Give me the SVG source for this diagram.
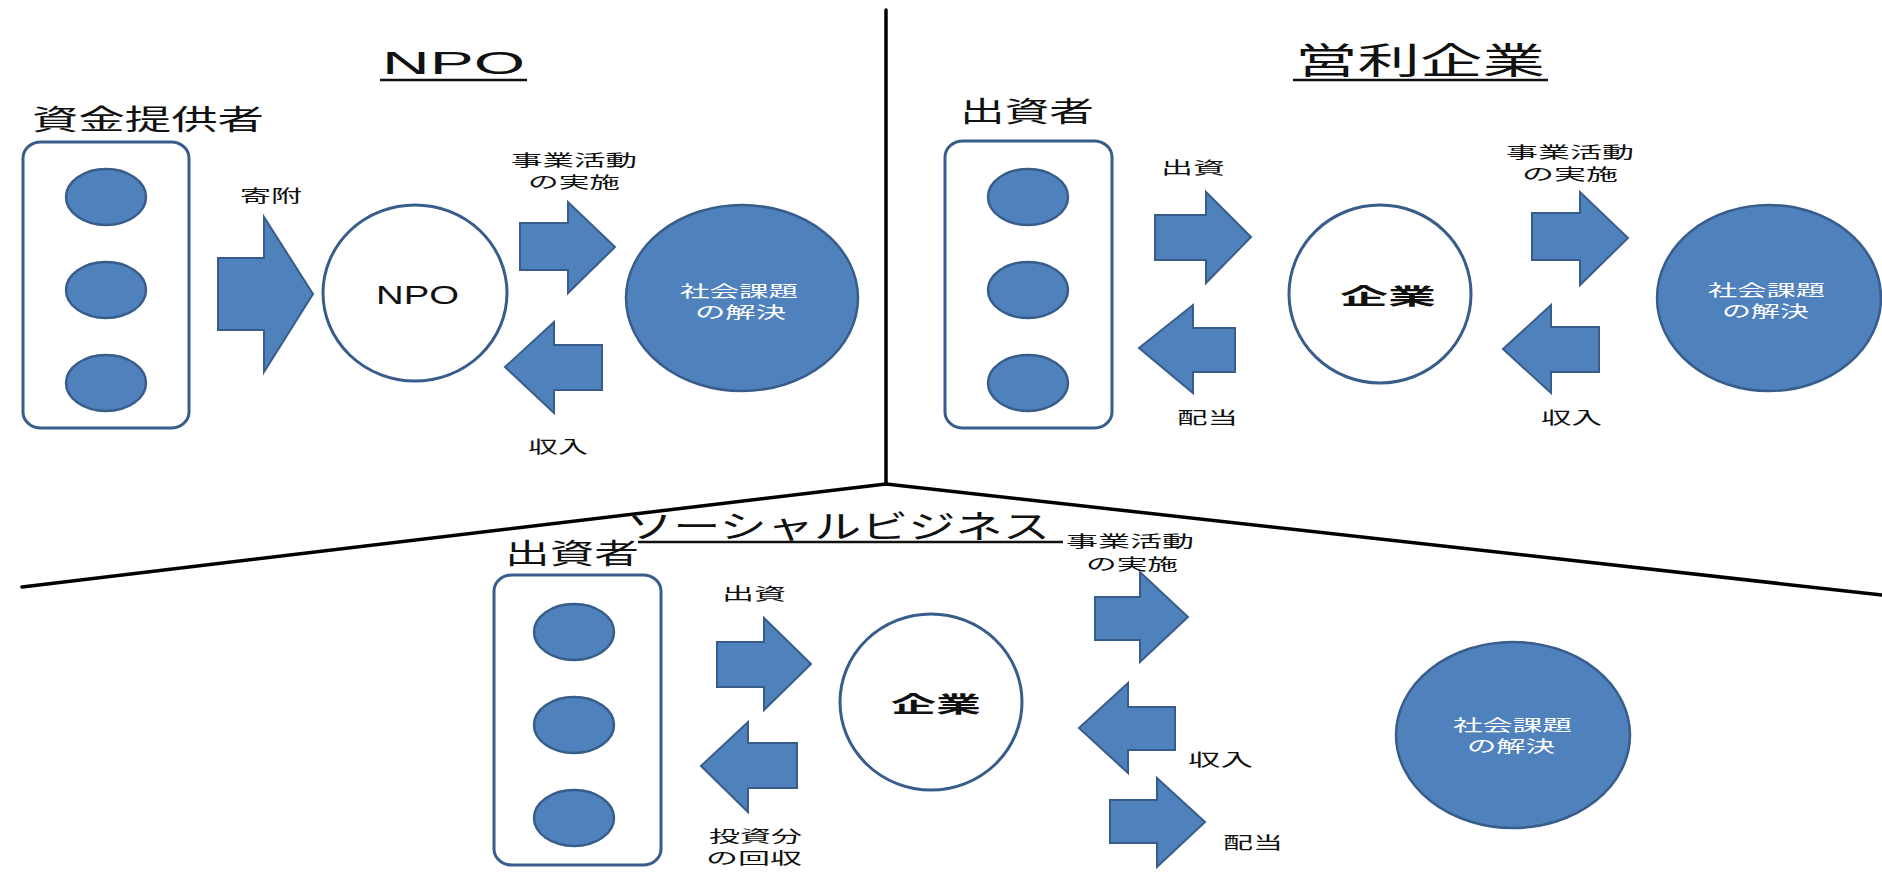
<svg xmlns="http://www.w3.org/2000/svg" width="1882" height="878" viewBox="0 0 1882 878">
<style>
.bg{fill:#ffffff}
.sep{stroke:#000;stroke-width:3.5;fill:none;stroke-linecap:round}
.box{fill:#fff;stroke:#385d8a;stroke-width:3}
.dot{fill:#4f81bd;stroke:#385d8a;stroke-width:2.5}
.org{fill:#fff;stroke:#385d8a;stroke-width:3}
.goal{fill:#4f81bd;stroke:#385d8a;stroke-width:2.5}
.arr{fill:#4f81bd;stroke:#385d8a;stroke-width:2;stroke-linejoin:miter}
.jp{font-family:"Noto Sans CJK JP","Noto Sans",sans-serif;fill:#111}
.lat{font-family:"Liberation Sans",Arial,sans-serif;fill:#111}
.ttl{font-size:36px}
.hd{font-size:28px}
.lb{font-size:17px}
.l2{font-size:16px}
.wt{font-size:16px;fill:#fff}
.ul{stroke:#111;stroke-width:2.5}
</style>
<rect class="bg" x="0" y="0" width="1882" height="878"/>
<g id="separators">
<line class="sep" x1="886" y1="10" x2="886" y2="484"/>
<line class="sep" x1="886" y1="484" x2="22" y2="587"/>
<line class="sep" x1="886" y1="484" x2="1882" y2="595"/>
</g>
<g id="titles">
<text class="lat" x="382" y="74" font-size="32" textLength="143" lengthAdjust="spacingAndGlyphs">NPO</text>
<line class="ul" x1="380" y1="80" x2="527" y2="80"/>
<text class="jp ttl" x="1295" y="74" textLength="250" lengthAdjust="spacingAndGlyphs">営利企業</text>
<line class="ul" x1="1293" y1="80" x2="1548" y2="80"/>
<text class="jp" x="626" y="538" font-size="32" textLength="424" lengthAdjust="spacingAndGlyphs">ソーシャルビジネス</text>
<line class="ul" x1="638" y1="542" x2="1063" y2="542"/>
</g>
<g id="npo-funders">
<text class="jp hd" x="32" y="130" textLength="232" lengthAdjust="spacingAndGlyphs">資金提供者</text>
<rect class="box" x="23" y="142" width="166" height="286" rx="18" ry="16"/>
<ellipse class="dot" cx="106" cy="197" rx="40" ry="28"/>
<ellipse class="dot" cx="106" cy="290" rx="40" ry="28"/>
<ellipse class="dot" cx="106" cy="383" rx="40" ry="28"/>
</g>
<g id="npo-org">
<ellipse class="org" cx="415" cy="293" rx="92" ry="88"/>
<text class="lat" x="376" y="304" font-size="25" textLength="83" lengthAdjust="spacingAndGlyphs">NPO</text>
</g>
<g id="npo-goal">
<ellipse class="goal" cx="742" cy="298" rx="116" ry="93"/>
<text class="jp wt" x="680" y="297" textLength="118" lengthAdjust="spacingAndGlyphs">社会課題</text>
<text class="jp wt" x="695" y="318" textLength="91" lengthAdjust="spacingAndGlyphs">の解決</text>
</g>
<g id="corp-investors">
<text class="jp hd" x="960" y="122" textLength="134" lengthAdjust="spacingAndGlyphs">出資者</text>
<rect class="box" x="945" y="141" width="167" height="287" rx="18" ry="16"/>
<ellipse class="dot" cx="1028" cy="197" rx="40" ry="28"/>
<ellipse class="dot" cx="1028" cy="290" rx="40" ry="28"/>
<ellipse class="dot" cx="1028" cy="383" rx="40" ry="28"/>
</g>
<g id="corp-org">
<ellipse class="org" cx="1380" cy="294" rx="91" ry="89"/>
<text class="jp" x="1340" y="304" font-size="22" font-weight="bold" textLength="96" lengthAdjust="spacingAndGlyphs">企業</text>
</g>
<g id="corp-goal">
<ellipse class="goal" cx="1769" cy="298" rx="112" ry="93"/>
<text class="jp wt" x="1708" y="296" textLength="117" lengthAdjust="spacingAndGlyphs">社会課題</text>
<text class="jp wt" x="1722" y="317" textLength="87" lengthAdjust="spacingAndGlyphs">の解決</text>
</g>
<g id="sb-investors">
<text class="jp hd" x="505" y="564" textLength="134" lengthAdjust="spacingAndGlyphs">出資者</text>
<rect class="box" x="494" y="575" width="167" height="290" rx="18" ry="16"/>
<ellipse class="dot" cx="574" cy="632" rx="40" ry="28"/>
<ellipse class="dot" cx="574" cy="725" rx="40" ry="28"/>
<ellipse class="dot" cx="574" cy="818" rx="40" ry="28"/>
</g>
<g id="sb-org">
<ellipse class="org" cx="931" cy="702" rx="91" ry="88"/>
<text class="jp" x="891" y="712" font-size="22" font-weight="bold" textLength="90" lengthAdjust="spacingAndGlyphs">企業</text>
</g>
<g id="sb-goal">
<ellipse class="goal" cx="1513" cy="735" rx="117" ry="93"/>
<text class="jp wt" x="1453" y="731" textLength="119" lengthAdjust="spacingAndGlyphs">社会課題</text>
<text class="jp wt" x="1467" y="752" textLength="88" lengthAdjust="spacingAndGlyphs">の解決</text>
</g>
<g id="connectors">
<path class="arr" d="M218,258 H264 V217 L313,294 L264,372 V330 H218 Z"/>
<path class="arr" d="M520,223 H568 V202 L615,247 L568,293 V270 H520 Z"/>
<path class="arr" d="M602,345 H554 V322 L505,367 L554,413 V390 H602 Z"/>
<path class="arr" d="M1155,215 H1206 V192 L1251,237 L1206,283 V260 H1155 Z"/>
<path class="arr" d="M1235,328 H1193 V305 L1139,348 L1193,393 V372 H1235 Z"/>
<path class="arr" d="M1532,213 H1580 V192 L1628,238 L1580,285 V260 H1532 Z"/>
<path class="arr" d="M1599,327 H1551 V305 L1503,349 L1551,393 V372 H1599 Z"/>
<path class="arr" d="M717,642 H764 V618 L811,664 L764,710 V687 H717 Z"/>
<path class="arr" d="M797,743 H748 V722 L701,766 L748,812 V788 H797 Z"/>
<path class="arr" d="M1095,597 H1140 V572 L1188,617 L1140,662 V640 H1095 Z"/>
<path class="arr" d="M1175,707 H1128 V683 L1079,728 L1128,773 V750 H1175 Z"/>
<path class="arr" d="M1110,800 H1157 V778 L1205,822 L1157,867 V843 H1110 Z"/>
</g>
<g id="connector-labels">
<text class="jp lb" x="240" y="202" textLength="62" lengthAdjust="spacingAndGlyphs">寄附</text>
<text class="jp l2" x="511" y="166" textLength="126" lengthAdjust="spacingAndGlyphs">事業活動</text>
<text class="jp l2" x="528" y="188" textLength="92" lengthAdjust="spacingAndGlyphs">の実施</text>
<text class="jp lb" x="528" y="453" textLength="60" lengthAdjust="spacingAndGlyphs">収入</text>
<text class="jp lb" x="1161" y="174" textLength="64" lengthAdjust="spacingAndGlyphs">出資</text>
<text class="jp lb" x="1177" y="424" textLength="61" lengthAdjust="spacingAndGlyphs">配当</text>
<text class="jp l2" x="1506" y="158" textLength="128" lengthAdjust="spacingAndGlyphs">事業活動</text>
<text class="jp l2" x="1522" y="180" textLength="96" lengthAdjust="spacingAndGlyphs">の実施</text>
<text class="jp lb" x="1541" y="424" textLength="61" lengthAdjust="spacingAndGlyphs">収入</text>
<text class="jp lb" x="722" y="600" textLength="64" lengthAdjust="spacingAndGlyphs">出資</text>
<text class="jp l2" x="709" y="842" textLength="93" lengthAdjust="spacingAndGlyphs">投資分</text>
<text class="jp l2" x="706" y="864" textLength="96" lengthAdjust="spacingAndGlyphs">の回収</text>
<text class="jp l2" x="1066" y="547" textLength="128" lengthAdjust="spacingAndGlyphs">事業活動</text>
<text class="jp l2" x="1086" y="570" textLength="92" lengthAdjust="spacingAndGlyphs">の実施</text>
<text class="jp lb" x="1188" y="766" textLength="65" lengthAdjust="spacingAndGlyphs">収入</text>
<text class="jp lb" x="1223" y="849" textLength="60" lengthAdjust="spacingAndGlyphs">配当</text>
</g>
</svg>
